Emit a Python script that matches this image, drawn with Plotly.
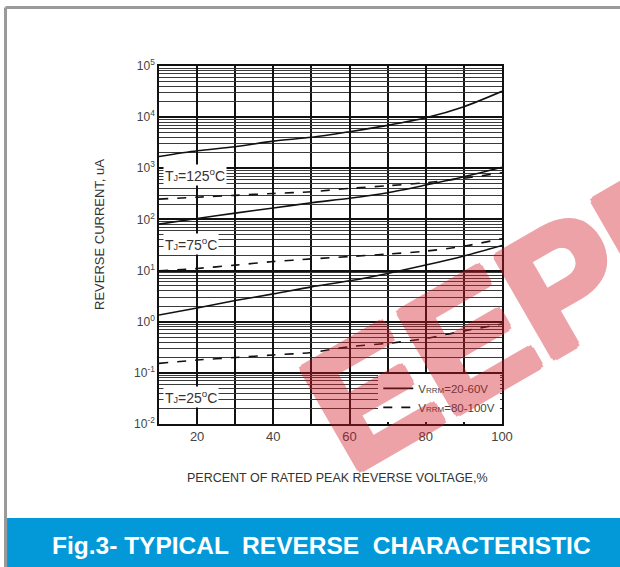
import math
import plotly.graph_objects as go

# ---- data ----
pct = [10, 20, 30, 40, 50, 60, 70, 80, 90, 100]

tj125_low_v = [1700, 2200, 2640, 3400, 4030, 5200, 6900, 9700, 16000, 32000]   # VRRM 20-60V
tj125_high_v = [250, 272, 296, 322, 348, 405, 456, 522, 640, 820]             # VRRM 80-100V
tj75_low_v = [81, 104, 133, 167, 212, 259, 333, 471, 684, 1050]
tj75_high_v = [9.9, 11, 12.8, 15, 16.9, 18.8, 21, 24, 30, 42]
tj25_low_v = [1.35, 1.86, 2.6, 3.5, 4.8, 6.3, 8.8, 12.8, 19.3, 31]
tj25_high_v = [0.153, 0.178, 0.2, 0.224, 0.25, 0.325, 0.377, 0.47, 0.66, 0.9]

y_tickvals = [1e-2, 1e-1, 1e0, 1e1, 1e2, 1e3, 1e4, 1e5]
y_ticktext = ["10<sup>-2</sup>", "10<sup>-1</sup>", "10<sup>0</sup>", "10<sup>1</sup>",
              "10<sup>2</sup>", "10<sup>3</sup>", "10<sup>4</sup>", "10<sup>5</sup>"]
x_tickvals = [20, 40, 60, 80, 100]
x_ticktext = ["20", "40", "60", "80", "100"]

temp_labels = ["T<span style='font-size:9px'>J</span>=125<sup>o</sup>C",
               "T<span style='font-size:9px'>J</span>=75<sup>o</sup>C",
               "T<span style='font-size:9px'>J</span>=25<sup>o</sup>C"]
temp_label_y = [750, 33, 0.034]

legend_low = "V<span style='font-size:8px'>RRM</span>=20-60V"
legend_high = "V<span style='font-size:8px'>RRM</span>=80-100V"

# ---- figure ----
fig = go.Figure()
series = [
    (tj125_low_v, "solid", legend_low, True),
    (tj125_high_v, "dash", legend_high, True),
    (tj75_low_v, "solid", legend_low, False),
    (tj75_high_v, "dash", legend_high, False),
    (tj25_low_v, "solid", legend_low, False),
    (tj25_high_v, "dash", legend_high, False),
]
for vals, dash, name, show in series:
    fig.add_trace(go.Scatter(
        x=pct, y=vals, mode="lines", name=name, showlegend=show,
        line=dict(color="#111111", width=1.6, dash=dash, shape="spline", smoothing=0.8),
        hoverinfo="skip",
    ))

fig.update_layout(
    width=620, height=567,
    margin=dict(l=159, r=118, t=66, b=143),
    paper_bgcolor="white", plot_bgcolor="white",
    font=dict(family="Liberation Sans, Arial, sans-serif", color="#333333"),
    showlegend=True,
    legend=dict(x=0.995, y=0.006, xanchor="right", yanchor="bottom",
                bgcolor="white", borderwidth=0, tracegroupgap=0,
                font=dict(size=11.5, color="#444444"), itemwidth=30,
                traceorder="normal"),
)

fig.update_xaxes(
    range=[10, 100], tickmode="array", tickvals=x_tickvals, ticktext=x_ticktext,
    showgrid=True, gridcolor="#111111", gridwidth=2,
    minor=dict(tickmode="linear", tick0=10, dtick=10, showgrid=True,
               gridcolor="#111111", gridwidth=2, ticks=""),
    showline=True, linecolor="#111111", linewidth=1.5, mirror=True,
    ticks="", tickfont=dict(size=13, color="#444444"), zeroline=False,
)
fig.update_yaxes(
    type="log", range=[-2, 5], tickvals=y_tickvals, ticktext=y_ticktext,
    showgrid=True, gridcolor="#111111", gridwidth=2,
    showline=True, linecolor="#111111", linewidth=1.5, mirror=True,
    ticks="", tickfont=dict(size=12, color="#444444"), zeroline=False,
    minor=dict(dtick="D1", showgrid=True, gridcolor="#3a3a3a", gridwidth=1, ticks=""),
)

# temperature labels
for txt, yv in zip(temp_labels, temp_label_y):
    fig.add_annotation(x=10, y=math.log10(yv), xref="x", yref="y",
                       text=txt, showarrow=False, xanchor="left", xshift=4,
                       bgcolor="white", font=dict(size=14, color="#333333"),
                       borderpad=1)

# axis titles
fig.add_annotation(x=-0.172, y=0.528, xref="paper", yref="paper",
                   xanchor="center", yanchor="middle",
                   text="REVERSE CURRENT, uA", textangle=-90, showarrow=False,
                   font=dict(size=13, color="#333333"))
fig.add_annotation(x=0.52, y=-0.151, xref="paper", yref="paper",
                   xanchor="center", yanchor="middle",
                   text="PERCENT OF RATED PEAK REVERSE VOLTAGE,%", showarrow=False,
                   font=dict(size=12.5, color="#333333"))

# frame border (top and left grey lines)
fig.add_shape(type="line", xref="paper", yref="paper", x0=-0.4475, x1=1.35, y0=1.1634, y1=1.1634,
              line=dict(color="#9a9a9a", width=3))
fig.add_shape(type="line", xref="paper", yref="paper", x0=-0.4475, x1=-0.4475, y0=1.1634, y1=-0.41,
              line=dict(color="#9a9a9a", width=3))

# blue caption banner
fig.add_shape(type="rect", xref="paper", yref="paper", x0=-0.443, x1=1.35, y0=-0.41, y1=-0.2626,
              line=dict(width=0), fillcolor="#0399D9", layer="above")
fig.add_annotation(x=0.475, y=-0.338, xref="paper", yref="paper",
                   xanchor="center", yanchor="middle",
                   text="<b>Fig.3- TYPICAL  REVERSE  CHARACTERISTIC</b>", showarrow=False,
                   font=dict(size=24.5, color="white", family="Liberation Sans, Arial"))

# watermark (heavy letters: solid colour thickened with shadows, whole group translucent)
wm = "rgb(210,25,35)"
wm_shadow = ", ".join(f"{dx}px {dy}px 0 {wm}" for dx, dy in
                      [(4, 0), (-4, 0), (0, 4), (0, -4), (3, 3), (-3, -3), (3, -3), (-3, 3)])
fig.add_annotation(x=(528 - 159) / 343, y=(424 - 305) / 358, xref="paper", yref="paper",
                   xanchor="center", yanchor="middle",
                   text="<b>EEPM</b>", showarrow=False, textangle=-30, opacity=0.4,
                   font=dict(size=168, color=wm, shadow=wm_shadow,
                             family="Liberation Sans, Arial"))

fig.write_html("out.html", config={"displayModeBar": False},
               post_script="document.body.style.margin='0px';")
